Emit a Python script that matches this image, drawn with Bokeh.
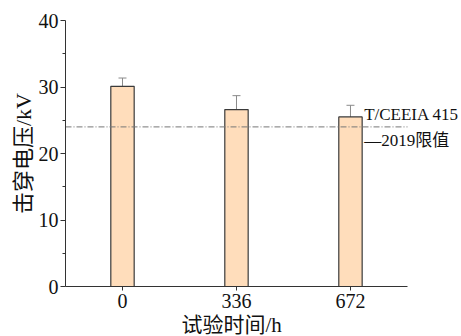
from bokeh.plotting import figure
from bokeh.models import ColumnDataSource, Range1d, Whisker, Label, FixedTicker, Title
from bokeh.embed import file_html
from bokeh.resources import INLINE

# Breakdown voltage after ageing
hours = ["0", "336", "672"]
voltage = [30.1, 26.6, 25.5]
voltage_err = [1.25, 2.1, 1.75]
limit_value = 24.0
limit_text = ["T/CEEIA 415", "\u20142019限值"]

xs = list(range(len(hours)))
x_lo, x_hi = -0.5, len(hours) - 0.5
src = ColumnDataSource(data=dict(
    x=xs, top=voltage,
    upper=[v + e for v, e in zip(voltage, voltage_err)],
    lower=[v - e for v, e in zip(voltage, voltage_err)],
))

serif = "Liberation Serif, Noto Sans CJK SC"

# frame runs to the right edge so the limit caption fits; the axis line stops at x_hi
p = figure(width=461, height=336, output_backend="svg", toolbar_location=None,
           x_range=Range1d(x_lo, 2.974), y_range=Range1d(0, 40),
           min_border_left=65, min_border_right=0, min_border_top=20,
           min_border_bottom=30)
p.outline_line_color = None
p.xgrid.grid_line_color = None
p.ygrid.grid_line_color = None
p.background_fill_color = "white"
p.border_fill_color = "white"

p.vbar(x="x", top="top", width=0.205, bottom=0, source=src,
       fill_color="#FFDDBB", line_color="#3a3a3a", line_width=1.2)

w = Whisker(base="x", upper="upper", lower="lower", source=src,
            line_color="#8a8a8a", line_width=1)
w.upper_head.size = 8
w.lower_head.size = 8
w.upper_head.line_color = "#8a8a8a"
w.lower_head.line_color = "#8a8a8a"
p.add_layout(w)

# standard limit line across the plotted span
p.line(x=[x_lo, x_hi], y=[limit_value, limit_value], line_color="#777777",
       line_width=1, line_dash="6 2 1 2")

for i, t in enumerate(limit_text):
    p.add_layout(Label(x=2.12, y=25.9 - 3.9 * i, text=t, text_baseline="middle",
                       text_font=serif, text_font_size="17px", text_color="#111111"))

# x axis
p.xaxis.ticker = FixedTicker(ticks=xs)
p.xaxis.bounds = (x_lo, x_hi)
p.xaxis.major_label_overrides = {i: h for i, h in enumerate(hours)}
p.xaxis.minor_tick_line_color = None
p.xaxis.major_tick_out = 4
p.xaxis.major_tick_in = 0

# x axis title, centred under the axis line rather than the whole frame
xt = Title(text="试验时间/h", align="left", offset=116, standoff=0,
           text_font=serif, text_font_size="21px", text_font_style="normal",
           text_color="#111111")
p.add_layout(xt, "below")

# y axis
p.yaxis.ticker = FixedTicker(ticks=[0, 10, 20, 30, 40], minor_ticks=[5, 15, 25, 35])
p.yaxis.axis_label = "击穿电压/kV"
p.yaxis.major_tick_out = 5
p.yaxis.major_tick_in = 0
p.yaxis.minor_tick_out = 3
p.yaxis.minor_tick_in = 0

for ax in (p.xaxis[0], p.yaxis[0]):
    ax.axis_line_color = "#333333"
    ax.major_tick_line_color = "#333333"
    ax.major_label_text_font = serif
    ax.major_label_text_font_size = "20px"
    ax.major_label_text_color = "#111111"
    ax.axis_label_text_font = serif
    ax.axis_label_text_font_style = "normal"
    ax.axis_label_text_color = "#111111"
p.yaxis.minor_tick_line_color = "#333333"
p.yaxis.axis_label_text_font_size = "22px"

p.xaxis.major_label_standoff = 3
p.yaxis.major_label_standoff = 2
p.yaxis.axis_label_standoff = 0

open("out.html", "w").write(file_html(p, INLINE))
